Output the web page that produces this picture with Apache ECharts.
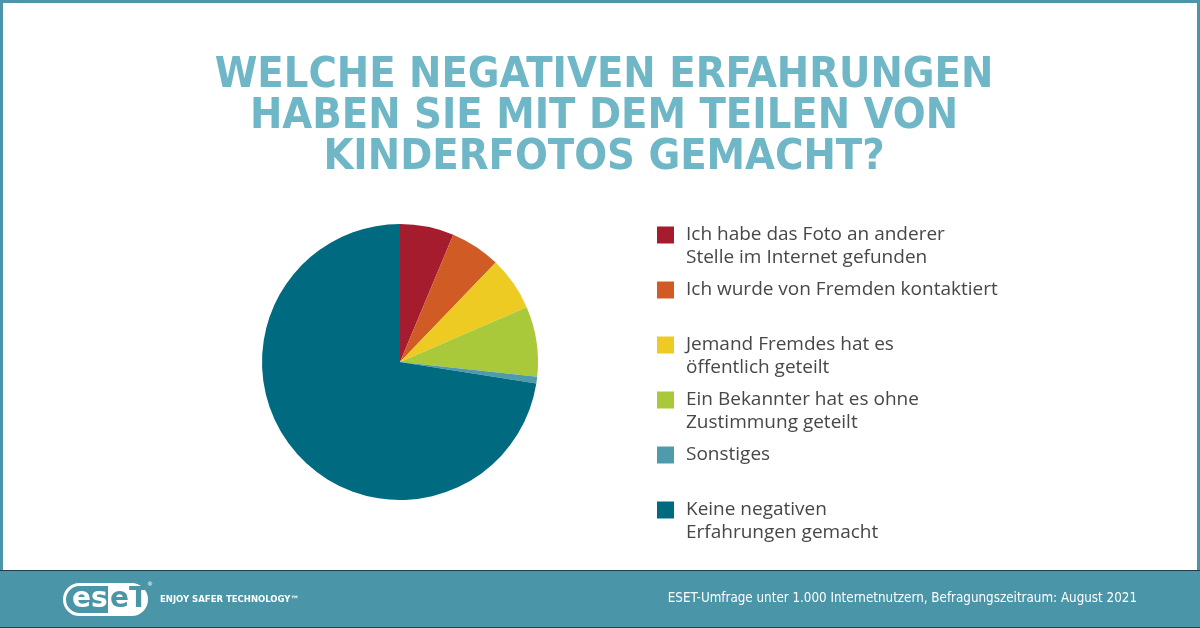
<!DOCTYPE html>
<html>
<head>
<meta charset="utf-8">
<script src="https://cdn.jsdelivr.net/npm/echarts@6/dist/echarts.min.js"></script>
<style>
  html, body { margin: 0; padding: 0; background: #ffffff; }
  #chart { width: 1200px; height: 628px; }
</style>
</head>
<body>
<div id="chart"></div>
<script>
// ---- data ----
const titleLines = [
  "WELCHE NEGATIVEN ERFAHRUNGEN",
  "HABEN SIE MIT DEM TEILEN VON",
  "KINDERFOTOS GEMACHT?"
];
const categories = [
  "Ich habe das Foto an anderer\nStelle im Internet gefunden",
  "Ich wurde von Fremden kontaktiert",
  "Jemand Fremdes hat es\nöffentlich geteilt",
  "Ein Bekannter hat es ohne\nZustimmung geteilt",
  "Sonstiges",
  "Keine negativen\nErfahrungen gemacht"
];
const values = [6.3, 5.9, 6.3, 8.2, 0.8, 72.5];
const colors = ["#A51C2F", "#D05B24", "#EECB22", "#A9C93A", "#4E9BAC", "#006B80"];
const footerNote = "ESET-Umfrage unter 1.000 Internetnutzern, Befragungszeitraum: August 2021";
const tagline = "ENJOY SAFER TECHNOLOGY\u2122";

// ---- layout (style only) ----
const legendIconTops = [226.5, 281.5, 336.5, 391.5, 446.5, 501.5];
const LINE_H = 23;
const ICON = 17;

const legends = categories.map((name, i) => {
  const twoLine = name.indexOf("\n") >= 0;
  // two-line entries get a leading blank line so the icon lines up with the first text line
  const boxTop = twoLine ? ICON / 2 - 1.5 * LINE_H : ICON / 2 - 0.5 * LINE_H;
  return {
    data: [name],
    orient: "vertical",
    left: 657,
    top: legendIconTops[i] + Math.min(0, boxTop),
    padding: 0,
    icon: "rect",
    itemWidth: ICON,
    itemHeight: ICON,
    selectedMode: false,
    formatter: n => (n.indexOf("\n") >= 0 ? " \n" + n : n),
    textStyle: {
      fontFamily: "Open Sans",
      fontSize: 19,
      lineHeight: LINE_H,
      color: "#474747",
      padding: [0, 0, 0, 7]
    }
  };
});

const chart = echarts.init(document.getElementById("chart"), null, { renderer: "canvas" });
chart.setOption({
  animation: false,
  backgroundColor: "#ffffff",
  title: {
    text: titleLines.join("\n"),
    left: 599,
    top: 50,
    textAlign: "center",
    textStyle: {
      fontFamily: "DejaVu Sans Condensed",
      fontWeight: "bold",
      fontSize: 43,
      lineHeight: 41,
      color: "#6FB6C7"
    }
  },
  legend: legends,
  graphic: [
    { type: "rect", shape: { x: 0, y: 0, width: 1200, height: 3 }, style: { fill: "#4A96A8" }, silent: true },
    { type: "rect", shape: { x: 0, y: 0, width: 3, height: 570 }, style: { fill: "#4A96A8" }, silent: true },
    { type: "rect", shape: { x: 1197, y: 0, width: 3, height: 570 }, style: { fill: "#4A96A8" }, silent: true },
    { type: "rect", shape: { x: 0, y: 570, width: 1200, height: 58 }, style: { fill: "#4A96A8" }, silent: true },
    { type: "rect", shape: { x: 0, y: 570, width: 1200, height: 1 }, style: { fill: "#1E3F47" }, silent: true },
    { type: "rect", shape: { x: 0, y: 627, width: 1200, height: 1 }, style: { fill: "#1E4650" }, silent: true },
    // logo
    { type: "rect", shape: { x: 108, y: 584, width: 39, height: 31, r: [0, 15, 15, 0] }, style: { fill: "#ffffff" }, silent: true },
    { type: "rect", shape: { x: 64.5, y: 584.5, width: 82, height: 30, r: 15 }, style: { fill: "none", stroke: "#ffffff", lineWidth: 3 }, silent: true },
    { type: "text", x: 72, y: 600, style: { text: "es", fill: "#ffffff", font: "bold 28px 'DejaVu Sans'", verticalAlign: "middle" }, silent: true },
    { type: "text", x: 110, y: 600, style: { text: "eT", fill: "#4A96A8", font: "bold 28px 'DejaVu Sans'", verticalAlign: "middle" }, silent: true },
    { type: "text", x: 147, y: 584, style: { text: "\u00AE", fill: "#ffffff", font: "6px 'DejaVu Sans'", verticalAlign: "middle" }, silent: true },
    { type: "text", x: 160, y: 600, style: { text: tagline, fill: "#ffffff", font: "bold 8.5px 'DejaVu Sans'", verticalAlign: "middle" }, silent: true },
    { type: "text", x: 1137, y: 599, style: { text: footerNote, fill: "#ffffff", font: "13.3px 'DejaVu Sans Condensed'", align: "right", verticalAlign: "middle" }, silent: true }
  ],
  series: [{
    type: "pie",
    center: [400, 362],
    radius: 138,
    startAngle: 90,
    clockwise: true,
    avoidLabelOverlap: false,
    label: { show: false },
    labelLine: { show: false },
    emphasis: { disabled: true },
    itemStyle: { borderWidth: 0 },
    data: categories.map((name, i) => ({ name, value: values[i], itemStyle: { color: colors[i] } }))
  }]
});
</script>
</body>
</html>
